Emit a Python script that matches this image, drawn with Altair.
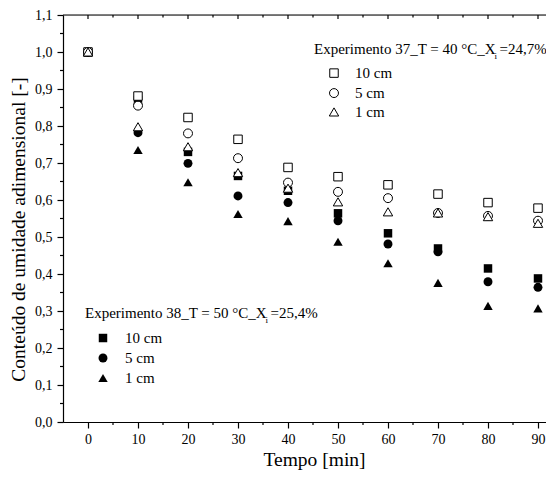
import altair as alt
import pandas as pd

# ---- data ----
tempo = [0, 10, 20, 30, 40, 50, 60, 70, 80, 90]

# Experimento 37 (open symbols)
e37_10cm = [1.0, 0.881, 0.823, 0.764, 0.688, 0.663, 0.641, 0.616, 0.593, 0.578]
e37_5cm = [1.0, 0.855, 0.780, 0.713, 0.647, 0.622, 0.605, 0.565, 0.557, 0.544]
e37_1cm = [1.0, 0.798, 0.744, 0.674, 0.632, 0.595, 0.568, 0.565, 0.555, 0.537]

# Experimento 38 (filled symbols)
e38_10cm = [1.0, 0.870, 0.730, 0.665, 0.625, 0.564, 0.510, 0.469, 0.415, 0.388]
e38_5cm = [1.0, 0.782, 0.699, 0.611, 0.593, 0.544, 0.481, 0.460, 0.379, 0.364]
e38_1cm = [1.0, 0.735, 0.648, 0.562, 0.543, 0.487, 0.429, 0.376, 0.314, 0.307]

sizes = ["10 cm", "5 cm", "1 cm"]
shapes = ["square", "circle", "triangle-up"]
sym_size = [72, 88, 130]

x_major = list(range(0, 91, 10))
x_minor = list(range(5, 91, 10))
y_major = [round(i * 0.1, 1) for i in range(0, 12)]
y_minor = [round(0.05 + i * 0.1, 2) for i in range(0, 11)]

leg1_title = "Experimento 37_T = 40 °C_X"
leg1_sub = "i"
leg1_tail = "=24,7%"
leg2_title = "Experimento 38_T = 50 °C_X"
leg2_sub = "i"
leg2_tail = "=25,4%"

FONT = "Liberation Serif"
W, H = 483, 407

def long(series_list):
    rows = []
    for lab, vals in zip(sizes, series_list):
        for t, v in zip(tempo, vals):
            rows.append({"t": t, "v": v, "size": lab})
    return pd.DataFrame(rows)

df_open = long([e37_10cm, e37_5cm, e37_1cm])
df_fill = long([e38_10cm, e38_5cm, e38_1cm])

xs = alt.Scale(domain=[-5, 91.6], nice=False, zero=False)
ys = alt.Scale(domain=[0, 1.1], nice=False, zero=False)
shape_scale = alt.Scale(domain=sizes, range=shapes)
size_scale = alt.Scale(domain=sizes, range=sym_size)

x_axis = alt.Axis(
    values=x_major, tickSize=6, labelPadding=4,
    labelFont=FONT, labelFontSize=14, labelColor="black",
    labelOverlap=False, labelFlush=False,
    title="Tempo [min]", titleFont=FONT, titleFontSize=19.5, titleFontWeight="normal",
    titleColor="black", titleBaseline="middle", titleX=251, titleY=37,
    domainColor="black", tickColor="black", domainWidth=1.2, tickWidth=1.2, grid=False,
)
y_axis = alt.Axis(
    values=y_major, tickSize=6, labelPadding=5,
    labelExpr="replace(format(datum.value, '.1f'), '.', ',')",
    labelFont=FONT, labelFontSize=14, labelColor="black",
    labelOverlap=False, labelFlush=False,
    title="Conteúdo de umidade adimensional [-]", titleFont=FONT, titleFontSize=19.5,
    titleFontWeight="normal", titleColor="black", titleBaseline="middle",
    titleX=-45, titleY=214,
    domainColor="black", tickColor="black", domainWidth=1.2, tickWidth=1.2, grid=False,
)

X = alt.X("t:Q", scale=xs, axis=x_axis)
Y = alt.Y("v:Q", scale=ys, axis=y_axis)
SH = alt.Shape("size:N", scale=shape_scale, legend=None)
SZ = alt.Size("size:N", scale=size_scale, legend=None)

filled = alt.Chart(df_fill).mark_point(filled=True, color="black", opacity=1).encode(
    x=X, y=Y, shape=SH, size=SZ)
opened = alt.Chart(df_open).mark_point(filled=True, fill="white", stroke="black",
                                       strokeWidth=1, opacity=1).encode(
    x=X, y=Y, shape=SH, size=SZ)

# minor ticks (outward) on bottom and left axes
x_min = alt.Chart(pd.DataFrame({"t": x_minor})).mark_rule(color="black", strokeWidth=1.2).encode(
    x=X, y=alt.value(H), y2=alt.value(H + 3))
y_min = alt.Chart(pd.DataFrame({"v": y_minor})).mark_rule(color="black", strokeWidth=1.2).encode(
    y=Y, x=alt.value(-3), x2=alt.value(0))

# top frame line and inward ticks
top_line = alt.Chart(pd.DataFrame({"a": [0]})).mark_rule(color="black", strokeWidth=1.2).encode(
    x=alt.value(0), x2=alt.value(W), y=alt.value(0))
top_maj = alt.Chart(pd.DataFrame({"t": x_major})).mark_rule(color="black", strokeWidth=1.2).encode(
    x=X, y=alt.value(0), y2=alt.value(4))
top_min = alt.Chart(pd.DataFrame({"t": x_minor})).mark_rule(color="black", strokeWidth=1.2).encode(
    x=X, y=alt.value(0), y2=alt.value(2.5))

# legend annotations (positions in data units)
leg_sym = pd.DataFrame({
    "t": [49.2, 49.2, 49.2, 3.0, 3.0, 3.0],
    "v": [0.943, 0.889, 0.838, 0.227, 0.173, 0.119],
    "size": sizes + sizes,
    "open": [True, True, True, False, False, False],
})
leg_txt = pd.DataFrame({
    "t": [53.4, 53.4, 53.4, 7.4, 7.4, 7.4],
    "v": [0.943, 0.889, 0.838, 0.227, 0.173, 0.119],
    "label": sizes + sizes,
})
leg_open = alt.Chart(leg_sym[leg_sym["open"]]).mark_point(
    filled=True, fill="white", stroke="black", strokeWidth=1, opacity=1).encode(
    x=X, y=Y, shape=SH, size=SZ)
leg_fill = alt.Chart(leg_sym[~leg_sym["open"]]).mark_point(
    filled=True, color="black", opacity=1).encode(
    x=X, y=Y, shape=SH, size=SZ)
leg_labels = alt.Chart(leg_txt).mark_text(
    align="left", baseline="middle", font=FONT, fontSize=15, color="black").encode(
    x=X, y=Y, text="label:N")

titles = pd.DataFrame({
    "t": [45.2, 81.3, 82.3, -0.6, 35.5, 36.5],
    "v": [1.008, 0.990, 1.008, 0.295, 0.277, 0.295],
    "label": [leg1_title, leg1_sub, leg1_tail, leg2_title, leg2_sub, leg2_tail],
    "fs": [15, 9, 15, 15, 9, 15],
})
title_txt = alt.Chart(titles).mark_text(
    align="left", baseline="middle", font=FONT, color="black").encode(
    x=X, y=Y, text="label:N",
    size=alt.Size("fs:Q", scale=None, legend=None))

chart = alt.layer(
    filled, opened, x_min, y_min, top_line, top_maj, top_min,
    leg_open, leg_fill, leg_labels, title_txt,
).resolve_scale(size="independent").properties(
    width=W, height=H,
    autosize=alt.AutoSizeParams(type="none"),
    padding={"left": 55, "top": 7, "right": 0, "bottom": 50},
).configure_view(stroke=None).configure_axis(
    labelFont=FONT, titleFont=FONT
).configure(background="white")

chart.save("out.html", embed_options={"renderer": "svg", "actions": False})
